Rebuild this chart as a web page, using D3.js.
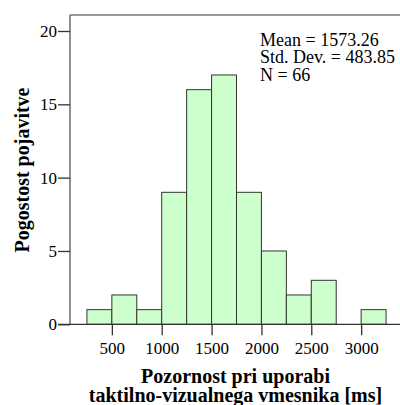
<!DOCTYPE html>
<html><head><meta charset="utf-8">
<script src="https://cdn.jsdelivr.net/npm/d3@7"></script>
<style>body{margin:0;background:#fff}svg{display:block}
svg text{font-family:"Liberation Serif","Tinos","Times New Roman","DejaVu Serif",serif}</style>
</head><body>
<script>
const binStarts = [250,500,750,1000,1250,1500,1750,2000,2250,2500,2750,3000];
const binWidth = 250;
const counts = [1,2,1,9,16,17,9,5,2,3,0,1];
const xTicks = [500,1000,1500,2000,2500,3000];
const yTicks = [0,5,10,15,20];
const statsLines = ["Mean = 1573.26","Std. Dev. = 483.85","N = 66"];
const xTitle = ["Pozornost pri uporabi","taktilno-vizualnega vmesnika [ms]"];
const yTitle = "Pogostost pojavitve";

(function(){
const W=400,H=405;
const svg=d3.select("body").append("svg").attr("width",W).attr("height",H);
const x=d3.scaleLinear().domain([0,3500]).range([62,411]);
const y=d3.scaleLinear().domain([0,20]).range([324.3,31]);
const plotLeft=70, plotTop=15;

// frame
svg.append("line").attr("x1",plotLeft).attr("x2",W).attr("y1",plotTop).attr("y2",plotTop).attr("stroke","#777").attr("stroke-width",1.3);
svg.append("line").attr("x1",plotLeft).attr("x2",plotLeft).attr("y1",plotTop).attr("y2",y(0)).attr("stroke","#555").attr("stroke-width",1.3);

// bars
svg.append("g").selectAll("rect").data(counts.map((c,i)=>({s:binStarts[i],c})).filter(d=>d.c>0))
 .join("rect")
 .attr("x",d=>x(d.s)).attr("width",d=>x(d.s+binWidth)-x(d.s))
 .attr("y",d=>y(d.c)).attr("height",d=>y(0)-y(d.c))
 .attr("fill","#ccffcc").attr("stroke","#333").attr("stroke-width",1);

// x axis
const xa=svg.append("g").attr("transform",`translate(0,${y(0)})`)
 .call(d3.axisBottom(x).tickValues(xTicks).tickSize(11).tickPadding(7).tickFormat(d3.format("d")));
xa.select(".domain").remove();
xa.attr("font-family",null);
svg.append("line").attr("x1",58).attr("x2",W).attr("y1",y(0)).attr("y2",y(0)).attr("stroke","#333").attr("stroke-width",1.3);
xa.selectAll("line").attr("stroke","#333").attr("stroke-width",1.3);
xa.selectAll("text").attr("font-size",17).attr("fill","#000");

// y axis
const ya=svg.append("g").attr("transform",`translate(${plotLeft},0)`)
 .call(d3.axisLeft(y).tickValues(yTicks).tickSize(12).tickPadding(1));
ya.select(".domain").remove();
ya.attr("font-family",null);
ya.selectAll("line").attr("stroke","#333").attr("stroke-width",1.3);
ya.selectAll("text").attr("font-size",17).attr("fill","#000");

// stats
svg.append("g").selectAll("text").data(statsLines).join("text")
 .attr("x",260).attr("y",(d,i)=>45.7+i*17.7).text(d=>d)
 .attr("font-size",18).attr("fill","#000");

// titles
svg.append("g").selectAll("text").data(xTitle).join("text")
 .attr("x",235.5).attr("y",(d,i)=>382.7+i*19).attr("text-anchor","middle").text(d=>d)
 .attr("font-size",20).attr("font-weight","bold").attr("fill","#000");
svg.append("text").attr("transform",`translate(28.5,170) rotate(-90)`).attr("text-anchor","middle")
 .text(yTitle).attr("font-size",20).attr("font-weight","bold").attr("fill","#000");
})();
</script>
</body></html>
